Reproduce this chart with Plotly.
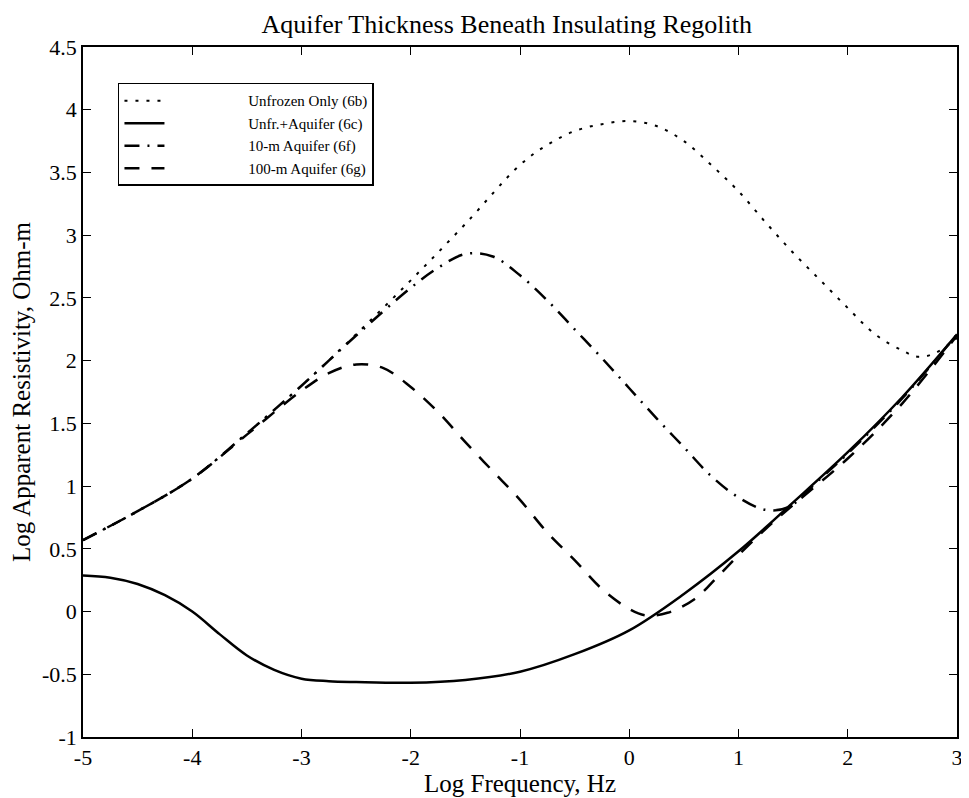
import plotly.graph_objects as go

# ---- data ----
x_unfrozen = [-5.0, -4.5, -4.0, -3.5, -3.0, -2.5, -2.0, -1.5, -1.0, -0.75, -0.5, -0.25, 0.0,
              0.25, 0.5, 0.75, 1.0, 1.25, 1.5, 1.75, 2.0, 2.25, 2.5, 2.65, 2.8, 3.0]
y_unfrozen = [0.57, 0.80, 1.06, 1.42, 1.80, 2.21, 2.64, 3.09, 3.56, 3.72, 3.83, 3.885, 3.91,
              3.87, 3.75, 3.56, 3.35, 3.10, 2.86, 2.64, 2.42, 2.21, 2.08, 2.03, 2.06, 2.18]

x_aquifer = [-5.0, -4.75, -4.5, -4.25, -4.0, -3.75, -3.5, -3.25, -3.0, -2.75, -2.5, -2.0,
             -1.5, -1.0, -0.5, 0.0, 0.5, 1.0, 1.5, 2.0, 2.5, 3.0]
y_aquifer = [0.287, 0.27, 0.22, 0.13, 0.0, -0.18, -0.35, -0.465, -0.535, -0.555, -0.562, -0.568,
             -0.545, -0.48, -0.34, -0.15, 0.14, 0.48, 0.87, 1.27, 1.71, 2.21]

x_10m = [-5.0, -4.5, -4.0, -3.5, -3.0, -2.5, -2.0, -1.75, -1.5, -1.25, -1.0, -0.75, -0.5,
         -0.25, 0.0, 0.25, 0.5, 0.75, 1.0, 1.25, 1.45, 1.75, 2.0, 2.5, 3.0]
y_10m = [0.57, 0.80, 1.06, 1.42, 1.80, 2.20, 2.58, 2.74, 2.85, 2.83, 2.68, 2.48, 2.25,
         2.02, 1.78, 1.54, 1.31, 1.08, 0.91, 0.81, 0.83, 1.06, 1.26, 1.70, 2.21]

x_100m = [-5.0, -4.5, -4.0, -3.5, -3.0, -2.75, -2.5, -2.25, -2.0, -1.75, -1.5, -1.25, -1.0,
          -0.75, -0.5, -0.25, 0.0, 0.15, 0.35, 0.6, 0.8, 1.0, 1.25, 1.5, 2.0, 2.5, 3.0]
y_100m = [0.57, 0.80, 1.06, 1.41, 1.76, 1.90, 1.97, 1.94, 1.79, 1.59, 1.35, 1.12, 0.89,
          0.63, 0.41, 0.18, 0.02, -0.03, -0.01, 0.10, 0.27, 0.45, 0.66, 0.85, 1.22, 1.66, 2.20]

names = ["Unfrozen Only (6b)", "Unfr.+Aquifer (6c)", "10-m Aquifer (6f)", "100-m Aquifer (6g)"]

x_ticks = [-5, -4, -3, -2, -1, 0, 1, 2, 3]
y_ticks = [-1, -0.5, 0, 0.5, 1, 1.5, 2, 2.5, 3, 3.5, 4, 4.5]

FONT = "Liberation Serif, Times New Roman, serif"
pad = "\u00a0" * 21

fig = go.Figure()
fig.add_trace(go.Scatter(x=x_unfrozen, y=y_unfrozen, mode="lines", name=pad + names[0],
                         line=dict(color="black", width=2, dash="3px,8px", shape="spline", smoothing=1.0)))
fig.add_trace(go.Scatter(x=x_aquifer, y=y_aquifer, mode="lines", name=pad + names[1],
                         line=dict(color="black", width=2.5, shape="spline", smoothing=1.0)))
fig.add_trace(go.Scatter(x=x_10m, y=y_10m, mode="lines", name=pad + names[2],
                         line=dict(color="black", width=2.5, dash="15px,8px,2px,8px", shape="spline", smoothing=1.0)))
fig.add_trace(go.Scatter(x=x_100m, y=y_100m, mode="lines", name=pad + names[3],
                         line=dict(color="black", width=2.5, dash="15px,12px", shape="spline", smoothing=1.0)))

axis_common = dict(showgrid=False, zeroline=False, showline=True, linecolor="black", linewidth=1.5,
                   mirror="ticks", ticks="inside", ticklen=8, tickwidth=1, tickcolor="black",
                   automargin=False,
                   tickfont=dict(family=FONT, size=22, color="black"))

fig.update_layout(
    width=961, height=790,
    paper_bgcolor="white", plot_bgcolor="white",
    margin=dict(l=75, r=12, t=39, b=61),
    font=dict(family=FONT, color="black"),
    title=dict(text="Aquifer Thickness Beneath Insulating Regolith", x=0.519, xanchor="center",
               y=0.9797, yanchor="middle", font=dict(family=FONT, size=26, color="black")),
    xaxis=dict(range=[-5, 3], tickvals=x_ticks, ticktext=[str(v) for v in x_ticks],
               title=dict(text="Log Frequency, Hz", font=dict(family=FONT, size=25), standoff=0),
               **axis_common),
    yaxis=dict(range=[-1, 4.5], tickvals=y_ticks, ticktext=[("%g" % v) for v in y_ticks],
               title=dict(text="Log Apparent Resistivity, Ohm-m", font=dict(family=FONT, size=25), standoff=4),
               **axis_common),
    legend=dict(x=0.04, y=0.948, xanchor="left", yanchor="top", bgcolor="white",
                bordercolor="black", borderwidth=1.5, itemwidth=40,
                font=dict(family=FONT, size=15, color="black"), tracegroupgap=0),
    showlegend=True,
)

fig.write_html("out.html")
